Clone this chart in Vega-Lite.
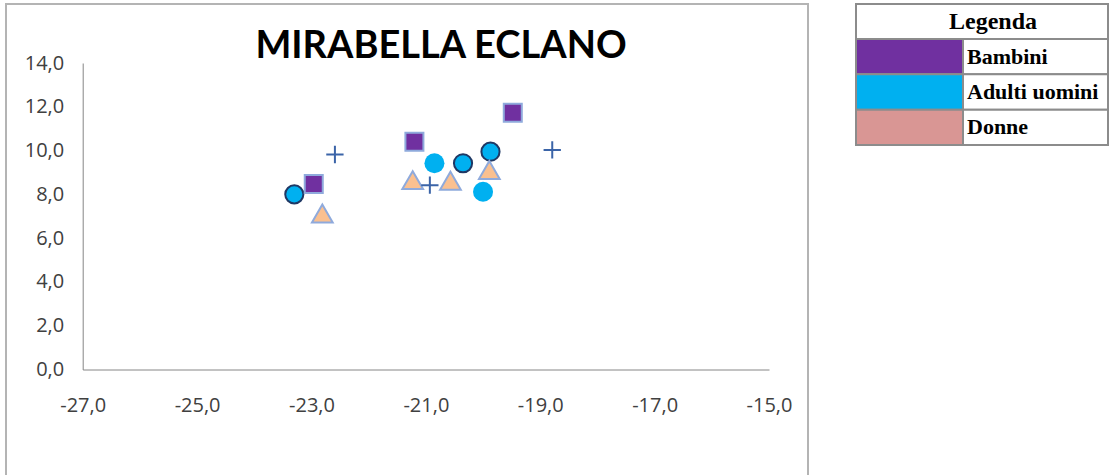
{
  "$schema": "https://vega.github.io/schema/vega-lite/v6.json",
  "padding": {"left": 5, "top": 3, "right": 0, "bottom": 0},
  "background": "white",
  "spacing": 45,
  "config": {
    "locale": {"number": {"decimal": ",", "thousands": ".", "grouping": [3], "currency": ["€", ""], "minus": "-"}},
    "view": {"stroke": "#B4B4B4", "strokeWidth": 2},
    "axis": {"grid": false, "ticks": false, "title": null, "domainColor": "#868686", "domainWidth": 1, "labelFont": "Open Sans", "labelFontSize": 20, "labelColor": "#404040"}
  },
  "hconcat": [
    {
      "width": 802,
      "height": 480,
      "title": {"text": "MIRABELLA ECLANO", "font": "Lato", "fontSize": 38, "fontWeight": "bold", "color": "#000000", "anchor": "middle", "frame": "group", "offset": -92, "dx": 34, "baseline": "alphabetic"},
      "data": {"values": [
        {"serie": "Adulti uomini 1", "d13C": -23.3, "d15N": 8.0},
        {"serie": "Adulti uomini 2", "d13C": -20.85, "d15N": 9.42},
        {"serie": "Adulti uomini 1", "d13C": -20.35, "d15N": 9.42},
        {"serie": "Adulti uomini 1", "d13C": -19.87, "d15N": 9.95},
        {"serie": "Adulti uomini 2", "d13C": -20.0, "d15N": 8.12},
        {"serie": "Bambini", "d13C": -22.96, "d15N": 8.47},
        {"serie": "Bambini", "d13C": -21.2, "d15N": 10.4},
        {"serie": "Bambini", "d13C": -19.48, "d15N": 11.73},
        {"serie": "Donne", "d13C": -22.81, "d15N": 7.13},
        {"serie": "Donne", "d13C": -21.23, "d15N": 8.65},
        {"serie": "Donne", "d13C": -20.57, "d15N": 8.62},
        {"serie": "Donne", "d13C": -19.89, "d15N": 9.11},
        {"serie": "Altro", "d13C": -22.59, "d15N": 9.82},
        {"serie": "Altro", "d13C": -20.93, "d15N": 8.42},
        {"serie": "Altro", "d13C": -18.79, "d15N": 10.03}
      ]},
      "encoding": {
        "x": {"field": "d13C", "type": "quantitative",
          "scale": {"domain": [-27, -15], "range": [76.7, 763], "nice": false, "zero": false},
          "axis": {"orient": "bottom", "offset": -114.5, "values": [-27, -25, -23, -21, -19, -17, -15], "format": ".1f", "labelPadding": 26, "labelFlush": false}},
        "y": {"field": "d15N", "type": "quantitative",
          "scale": {"domain": [0, 14], "range": [365.5, 59], "nice": false, "zero": false},
          "axis": {"orient": "left", "offset": -76.7, "values": [0, 2, 4, 6, 8, 10, 12, 14], "format": ".1f", "labelPadding": 19, "labelFlush": false}}
      },
      "layer": [
        {"transform": [{"filter": "datum.serie === 'Adulti uomini 2'"}],
         "mark": {"type": "point", "shape": "circle", "filled": true, "fill": "#00B0F0", "opacity": 1, "size": 400}},
        {"transform": [{"filter": "datum.serie === 'Adulti uomini 1'"}],
         "mark": {"type": "point", "shape": "circle", "filled": true, "fill": "#00B0F0", "stroke": "#1F3864", "strokeWidth": 2, "opacity": 1, "size": 330}},
        {"transform": [{"filter": "datum.serie === 'Bambini'"}],
         "mark": {"type": "point", "shape": "square", "filled": true, "fill": "#7030A0", "stroke": "#8FAADC", "strokeWidth": 2, "opacity": 1, "size": 324}},
        {"transform": [{"filter": "datum.serie === 'Donne'"}],
         "mark": {"type": "point", "shape": "triangle-up", "filled": true, "fill": "#FAC090", "stroke": "#8FAADC", "strokeWidth": 2, "opacity": 1, "size": 430}},
        {"transform": [{"filter": "datum.serie === 'Altro'"}],
         "mark": {"type": "point", "shape": "M-1,0H1M0,-1V1", "filled": false, "stroke": "#3B64A8", "strokeWidth": 2, "opacity": 1, "size": 300}}
      ]
    },
    {
      "spacing": 0,
      "bounds": "flush",
      "vconcat": [
        {
          "width": 252,
          "height": 35,
          "view": {"stroke": "#8C8C8C", "strokeWidth": 2},
          "data": {"values": [{"voce": "Legenda"}]},
          "mark": {"type": "text", "font": "Liberation Serif", "fontWeight": "bold", "fontSize": 24, "color": "#000000", "dx": 11},
          "encoding": {"text": {"field": "voce"}}
        },
        {
          "spacing": 0,
          "bounds": "flush",
          "hconcat": [
            {
              "width": 107,
              "height": 106,
              "view": {"stroke": "#8C8C8C", "strokeWidth": 2},
              "data": {"values": [{"voce": "Bambini"}, {"voce": "Adulti uomini"}, {"voce": "Donne"}]},
              "mark": {"type": "rect", "stroke": "#8C8C8C", "strokeWidth": 2},
              "encoding": {
                "y": {"field": "voce", "type": "nominal", "sort": null, "axis": null, "scale": {"paddingInner": 0, "paddingOuter": 0}},
                "color": {"field": "voce", "type": "nominal", "scale": {"domain": ["Bambini", "Adulti uomini", "Donne"], "range": ["#7030A0", "#00B0F0", "#D99694"]}, "legend": null}
              }
            },
            {
              "width": 145,
              "height": 106,
              "view": {"stroke": "#8C8C8C", "strokeWidth": 2},
              "data": {"values": [{"voce": "Bambini"}, {"voce": "Adulti uomini"}, {"voce": "Donne"}]},
              "encoding": {
                "y": {"field": "voce", "type": "nominal", "sort": null, "axis": null, "scale": {"paddingInner": 0, "paddingOuter": 0}}
              },
              "layer": [
                {"mark": {"type": "rect", "fill": "#FFFFFF", "stroke": "#8C8C8C", "strokeWidth": 2}},
                {"mark": {"type": "text", "font": "Liberation Serif", "fontWeight": "bold", "fontSize": 22, "color": "#000000", "align": "left", "dx": 4},
                 "encoding": {
                   "x": {"datum": 0, "type": "quantitative", "scale": {"domain": [0, 1]}, "axis": null},
                   "text": {"field": "voce"}
                 }}
              ]
            }
          ]
        }
      ]
    }
  ]
}
